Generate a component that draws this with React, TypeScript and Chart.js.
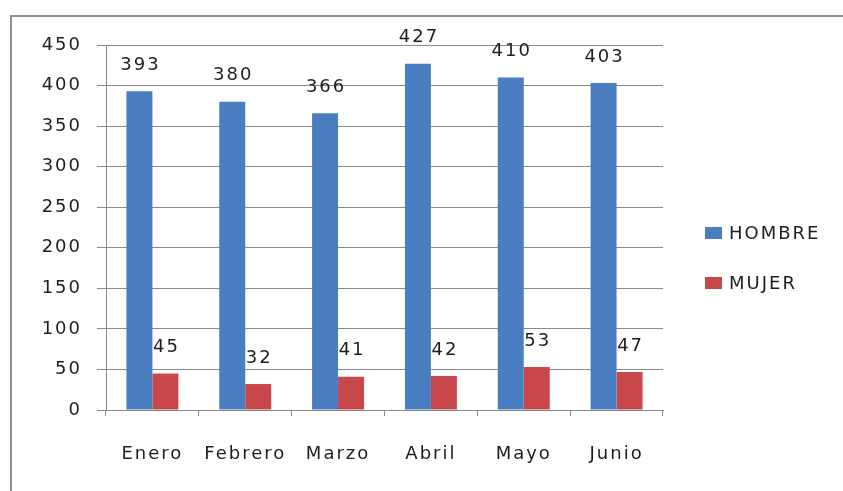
import React, { useEffect, useRef } from "react";
import { Chart, registerables } from "chart.js";

Chart.register(...registerables);

const categories = ["Enero", "Febrero", "Marzo", "Abril", "Mayo", "Junio"];
const hombre = [393, 380, 366, 427, 410, 403];
const mujer = [45, 32, 41, 42, 53, 47];
const seriesNames = ["HOMBRE", "MUJER"];
const yTicks = { min: 0, max: 450, step: 50 };

const FONT = { family: "'DejaVu Sans', sans-serif", size: 18 };
const TEXT = "#1e1e1e";
const GRID = "#8a8a8a";
const BLUE = "#4A7EC0";
const RED = "#C8474A";

const spacingPlugin = {
  id: "spacing",
  beforeUpdate(chart: any) {
    chart.ctx.letterSpacing = "2px";
  },
  beforeDraw(chart: any) {
    const ctx = chart.ctx;
    ctx.save();
    ctx.fillStyle = "#ffffff";
    ctx.fillRect(0, 0, chart.width, chart.height);
    ctx.strokeStyle = "#8f8f8f";
    ctx.lineWidth = 2;
    ctx.strokeRect(11, 16, 1000, 700);
    ctx.restore();
    ctx.letterSpacing = "2px";
  },
};

const labelPlugin = {
  id: "valueLabels",
  afterDatasetsDraw(chart: any) {
    const ctx = chart.ctx;
    ctx.save();
    ctx.letterSpacing = "2px";
    ctx.font = `${FONT.size}px ${FONT.family}`;
    ctx.fillStyle = TEXT;
    ctx.textAlign = "center";
    ctx.textBaseline = "middle";
    chart.data.datasets.forEach((ds: any, i: number) => {
      const meta = chart.getDatasetMeta(i);
      meta.data.forEach((el: any, j: number) => {
        ctx.fillText(String(ds.data[j]), el.x + 1, el.y - 26);
      });
    });
    ctx.restore();
  },
};

const legendPlugin = {
  id: "customLegend",
  afterDraw(chart: any) {
    const ctx = chart.ctx;
    ctx.save();
    ctx.letterSpacing = "2px";
    ctx.font = `${FONT.size}px ${FONT.family}`;
    ctx.textAlign = "left";
    ctx.textBaseline = "middle";
    const ys = [233, 283];
    chart.data.datasets.forEach((ds: any, i: number) => {
      const y = ys[i];
      ctx.fillStyle = ds.backgroundColor;
      ctx.fillRect(705, y - 6, 17, 12);
      ctx.fillStyle = TEXT;
      ctx.fillText(ds.label, 729, y + 1);
    });
    ctx.restore();
  },
};

export default function App() {
  const ref = useRef<HTMLCanvasElement>(null);
  useEffect(() => {
    if (!ref.current) return;
    const chart = new Chart(ref.current, {
      type: "bar",
      data: {
        labels: categories,
        datasets: [
          { label: seriesNames[0], data: hombre, backgroundColor: BLUE },
          { label: seriesNames[1], data: mujer, backgroundColor: RED },
        ],
      },
      options: {
        responsive: false,
        animation: false,
        layout: { padding: { left: 0, top: 45, right: 180, bottom: 0 } },
        plugins: {
          legend: { display: false },
          tooltip: { enabled: false },
        },
        datasets: {
          bar: { categoryPercentage: 0.56, barPercentage: 1 },
        },
        scales: {
          x: {
            grid: {
              drawOnChartArea: false,
              drawTicks: true,
              tickLength: 6,
              color: GRID,
              offset: true,
            },
            border: { color: GRID, width: 1 },
            ticks: { font: FONT, color: TEXT, padding: 28, maxRotation: 0 },
            afterFit(s: any) {
              s.height = 81;
            },
          },
          y: {
            min: yTicks.min,
            max: yTicks.max,
            grid: { color: GRID, tickLength: 9, drawTicks: true },
            border: { color: GRID, width: 1 },
            ticks: { stepSize: yTicks.step, font: FONT, color: TEXT, padding: 15 },
            afterFit(s: any) {
              s.width = 106;
            },
          },
        },
      },
      plugins: [spacingPlugin, labelPlugin, legendPlugin],
    });
    return () => chart.destroy();
  }, []);
  return (
    <div
      style={{
        position: "absolute",
        left: 0,
        top: 0,
        width: 843,
        height: 491,
        overflow: "hidden",
        background: "#fff",
      }}
    >
      <canvas ref={ref} width={843} height={491} style={{ display: "block" }} />
    </div>
  );
}
